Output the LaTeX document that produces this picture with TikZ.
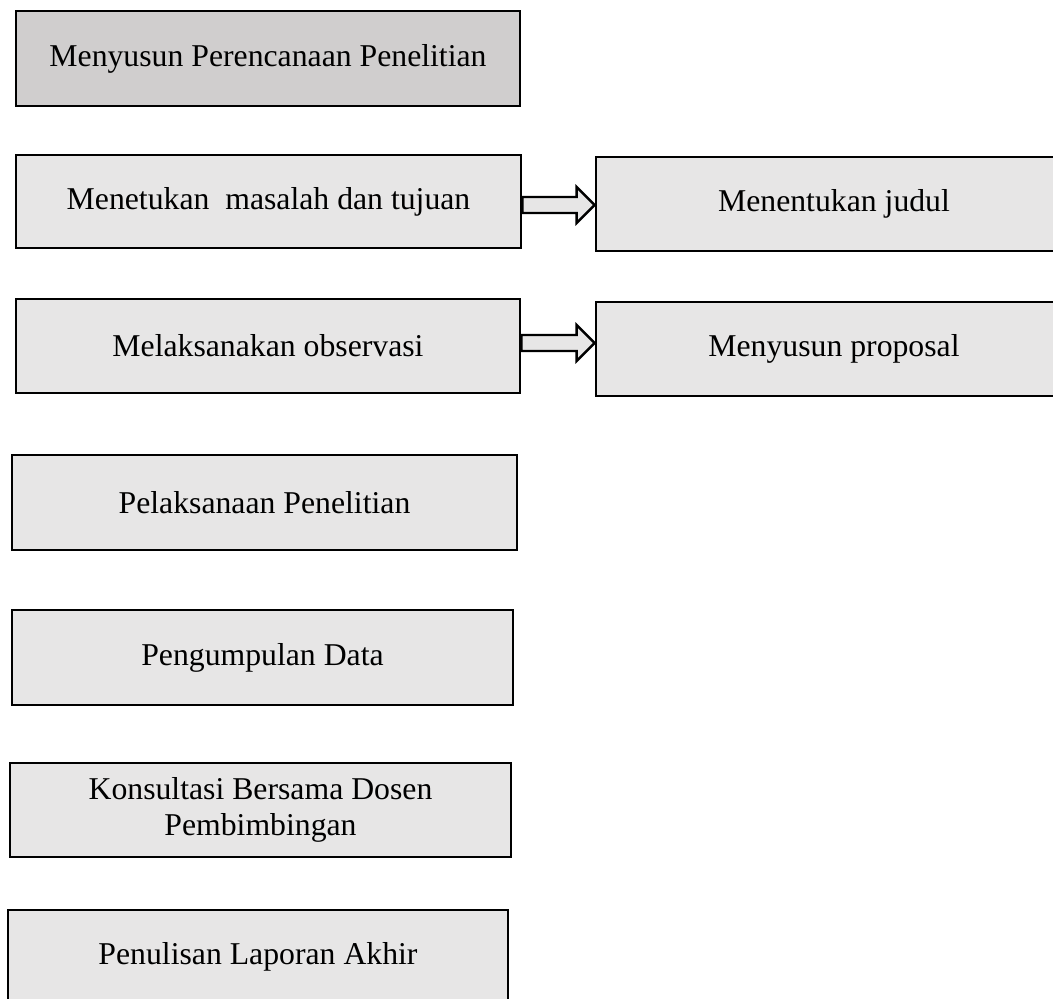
\documentclass[tikz,border=0pt]{standalone}
\usepackage{fontspec}
\setmainfont{Liberation Serif}
\usepackage{tikz}
\usetikzlibrary{calc}
\definecolor{abutua}{HTML}{D0CECE}
\definecolor{abumuda}{HTML}{E7E6E6}
\tikzset{kotak/.style={draw,line width=2pt,fill=abumuda,inner sep=0pt,align=center,
font=\fontsize{23.8}{27}\selectfont}}
% panah blok: #1 dari, #2 ke, #3 tinggi ujung
\newcommand{\panahblok}[3]{
\draw[line width=1.8pt,fill=abumuda,line join=miter]
($(#1.east |- 0,#3)+(0,-8)$) -- ($(#2.west |- 0,#3)+(-18,-8)$) -- ++(0,-10)
-- (#2.west |- 0,#3) -- ++(-18,18) -- ++(0,-10) -- ($(#1.east |- 0,#3)+(0,8)$) -- cycle;}
\begin{document}
\begin{tikzpicture}[x=0.75pt,y=-0.75pt]
\useasboundingbox (0,0) rectangle (1053,999);
\fill[white] (0,0) rectangle (1053,999);
\clip (0,0) rectangle (1053,999);
\node[kotak,fill=abutua,minimum width=378pt,minimum height=71.25pt] (rencana) at (268,58.5) {Menyusun Perencanaan Penelitian};
\node[kotak,minimum width=378.75pt,minimum height=69.75pt] (masalah) at (268.5,201.5) {Menetukan~ masalah dan tujuan};
\node[kotak,minimum width=357pt,minimum height=70.5pt] (judul) at (834,204) {Menentukan judul};
\node[kotak,minimum width=378pt,minimum height=70.5pt] (observasi) at (268,346) {Melaksanakan observasi};
\node[kotak,minimum width=357pt,minimum height=70.5pt] (proposal) at (834,349) {Menyusun proposal};
\node[kotak,minimum width=378.75pt,minimum height=71.25pt] (pelaksanaan) at (264.5,502.5) {Pelaksanaan Penelitian};
\node[kotak,minimum width=375.75pt,minimum height=71.25pt] (data) at (262.5,657.5) {Pengumpulan Data};
\node[kotak,minimum width=375.75pt,minimum height=70.5pt] (konsultasi) at (260.5,810) {Konsultasi Bersama Dosen\\Pembimbingan};
\node[kotak,minimum width=375pt,minimum height=70.5pt] (laporan) at (258,957) {Penulisan Laporan Akhir};
%\draw[help lines] (0,0) grid[step=50] (1053,999);
\panahblok{masalah}{judul}{205}
\panahblok{observasi}{proposal}{343}
\end{tikzpicture}
\end{document}
